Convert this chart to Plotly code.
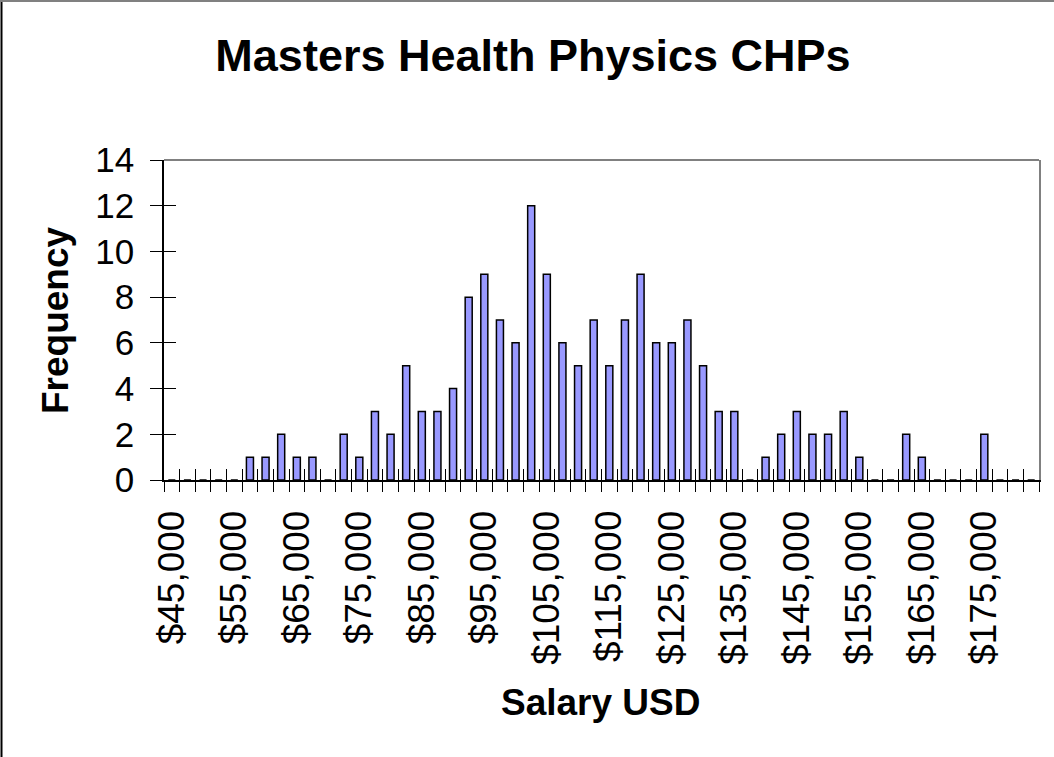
import plotly.graph_objects as go

# Salary bins ($2,500 steps) and frequencies
salary_bins = [45000 + 2500 * i for i in range(56)]
frequency = [0, 0, 0, 0, 0, 1, 1, 2, 1, 1,
             0, 2, 1, 3, 2, 5, 3, 3, 4, 8,
             9, 7, 6, 12, 9, 6, 5, 7, 5, 7,
             9, 6, 6, 7, 5, 3, 3, 0, 1, 2,
             3, 2, 2, 3, 1, 0, 0, 2, 1, 0,
             0, 0, 2, 0, 0, 0]
label_vals = list(range(45000, 175001, 10000))
label_text = ["${:,}".format(v) for v in label_vals]
y_ticks = list(range(0, 15, 2))

title_text = "Masters Health Physics CHPs"
x_title = "Salary USD"
y_title = "Frequency"

FONT = "Liberation Sans, Arial, sans-serif"
W, H = 1054, 757
L, R, T, B = 164, 15, 160, 277
plot_w = W - L - R
plot_h = H - T - B

fig = go.Figure()
fig.add_trace(go.Bar(
    x=salary_bins, y=frequency, width=2500 * 0.45,
    marker=dict(color="#9999FF", line=dict(color="black", width=1.5)),
    showlegend=False, hoverinfo="x+y"))

xr = [salary_bins[0] - 1250, salary_bins[-1] + 1250]

fig.update_layout(
    width=W, height=H,
    margin=dict(l=L, r=R, t=T, b=B),
    paper_bgcolor="white", plot_bgcolor="white",
    title=dict(text="<b>%s</b>" % title_text, x=533 / W, xanchor="center",
               y=1 - 55 / H, yanchor="middle",
               font=dict(family=FONT, size=45, color="black")),
    xaxis=dict(range=xr, tickmode="array", tickvals=label_vals, ticktext=label_text,
               tickangle=-90, ticks="outside", ticklen=14, tickcolor="rgba(0,0,0,0)",
               tickfont=dict(family=FONT, size=37, color="black"),
               showline=True, linecolor="black", linewidth=1.5,
               showgrid=False, zeroline=False, fixedrange=True),
    xaxis2=dict(range=xr, overlaying="x", anchor="y", side="bottom",
                tickmode="linear", tick0=xr[0], dtick=2500,
                ticks="outside", ticklen=11, tickcolor="black", tickwidth=1.2,
                showticklabels=False, showgrid=False, zeroline=False, showline=False),
    xaxis3=dict(range=xr, overlaying="x", anchor="y", side="bottom",
                tickmode="linear", tick0=xr[0], dtick=2500,
                ticks="inside", ticklen=11, tickcolor="black", tickwidth=1.2,
                showticklabels=False, showgrid=False, zeroline=False, showline=False),
    yaxis=dict(range=[0, 14], tickmode="array", tickvals=y_ticks,
               ticks="outside", ticklen=12, tickcolor="black", tickwidth=1.2,
               ticklabelstandoff=9,
               tickfont=dict(family=FONT, size=35, color="black"),
               showline=True, linecolor="black", linewidth=1.5,
               showgrid=False, zeroline=False, fixedrange=True),
    yaxis2=dict(range=[0, 14], overlaying="y", anchor="x", side="left",
                tickmode="array", tickvals=y_ticks,
                ticks="inside", ticklen=12, tickcolor="black", tickwidth=1.2,
                showticklabels=False, showgrid=False, zeroline=False, showline=False),
    yaxis3=dict(range=[0, 14], overlaying="y", anchor="x", side="right",
                showticklabels=False, ticks="", showgrid=False, zeroline=False,
                showline=True, linecolor="#808080", linewidth=2),
)

# invisible traces to activate helper axes
fig.add_trace(go.Scatter(x=[xr[0]], y=[0], xaxis="x2", yaxis="y", mode="markers",
                         marker=dict(opacity=0), showlegend=False, hoverinfo="skip"))
fig.add_trace(go.Scatter(x=[xr[0]], y=[0], xaxis="x3", yaxis="y2", mode="markers",
                         marker=dict(opacity=0), showlegend=False, hoverinfo="skip"))
fig.add_trace(go.Scatter(x=[xr[0]], y=[0], xaxis="x", yaxis="y3", mode="markers",
                         marker=dict(opacity=0), showlegend=False, hoverinfo="skip"))

# axis titles
fig.add_annotation(text="<b>%s</b>" % x_title, xref="paper", yref="paper",
                   x=(601 - L) / plot_w, y=(H - B - 702) / plot_h,
                   xanchor="center", yanchor="middle", showarrow=False,
                   font=dict(family=FONT, size=37, color="black"))
fig.add_annotation(text="<b>%s</b>" % y_title, xref="paper", yref="paper",
                   x=(55 - L) / plot_w, y=0.5, textangle=-90,
                   xanchor="center", yanchor="middle", showarrow=False,
                   font=dict(family=FONT, size=37, color="black"))

# plot area border (top grey)
fig.add_shape(type="line", xref="paper", yref="paper", x0=0, x1=1, y0=1, y1=1,
              line=dict(color="#808080", width=2))
# chart border (left black, top grey)
fig.add_shape(type="line", xref="paper", yref="paper",
              x0=(1.5 - L) / plot_w, x1=(1.5 - L) / plot_w,
              y0=(H - B - H) / plot_h, y1=(H - B) / plot_h,
              line=dict(color="black", width=2))
fig.add_shape(type="line", xref="paper", yref="paper",
              x0=-L / plot_w, x1=(W - L) / plot_w,
              y0=(H - B - 1) / plot_h, y1=(H - B - 1) / plot_h,
              line=dict(color="#808080", width=2))

fig.write_html("out.html", config={"displayModeBar": False},
               post_script="document.body.style.margin='0';document.body.style.overflow='hidden';")
